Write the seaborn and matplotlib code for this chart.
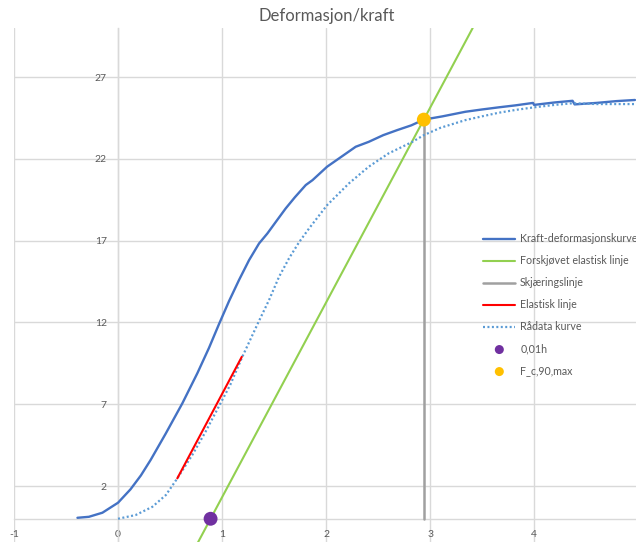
import matplotlib
matplotlib.use("Agg")
import matplotlib.pyplot as plt
import seaborn as sns

title = "Deformasjon/kraft"

# Kraft-deformasjonskurve
kurve_x = [-0.39, -0.28, -0.15, 0.0, 0.12, 0.22, 0.314, 0.458, 0.618, 0.763, 0.875,
           0.971, 1.067, 1.163, 1.26, 1.356, 1.436, 1.53, 1.612, 1.70, 1.805, 1.87,
           2.01, 2.125, 2.285, 2.41, 2.55, 2.685, 2.82, 2.94, 3.12, 3.34, 3.5, 3.66,
           3.82, 3.99, 4.0, 4.2, 4.37, 4.39, 4.6, 4.79, 4.97]
kurve_y = [0.06, 0.12, 0.37, 0.98, 1.8, 2.65, 3.6, 5.2, 7.05, 8.9, 10.45,
           11.9, 13.3, 14.59, 15.81, 16.83, 17.44, 18.26, 18.97, 19.65, 20.4, 20.7,
           21.52, 22.03, 22.74, 23.04, 23.45, 23.76, 24.05, 24.4, 24.6, 24.88, 25.02,
           25.15, 25.27, 25.42, 25.3, 25.45, 25.55, 25.33, 25.42, 25.53, 25.6]

# Rådata kurve
raa_x = [0.0, 0.17, 0.33, 0.46, 0.57, 0.714, 0.84, 0.939, 1.08, 1.195, 1.356, 1.452,
         1.548, 1.644, 1.74, 1.837, 2.01, 2.22, 2.41, 2.6, 2.83, 2.94, 3.1, 3.34,
         3.5, 3.66, 3.83, 4.0, 4.2, 4.37, 4.6, 4.79, 4.97]
raa_y = [0.0, 0.23, 0.73, 1.45, 2.47, 3.9, 5.3, 6.5, 8.2, 9.9, 12.1, 13.37,
         14.79, 15.92, 16.9, 17.75, 19.17, 20.5, 21.52, 22.33, 23.04, 23.45, 23.9,
         24.37, 24.6, 24.82, 25.0, 25.15, 25.3, 25.4, 25.35, 25.35, 25.35]

# Elastisk linje
elastisk_x = [0.57, 1.19]
elastisk_y = [2.47, 9.9]

# Forskjøvet elastisk linje
forskjovet_x = [0.764, 3.41]
forskjovet_y = [-1.5, 30.0]

# Skjæringslinje
skjaering_x = [2.94, 2.94]
skjaering_y = [0.0, 24.4]

# Points
punkt_h_x = [0.89]
punkt_h_y = [0.0]
punkt_f_x = [2.94]
punkt_f_y = [24.4]

labels = ["Kraft-deformasjonskurve", "Forskjøvet elastisk linje", "Skjæringslinje",
          "Elastisk linje", "Rådata kurve", "0,01h", "F_c,90,max"]
x_ticks = [-1, 0, 1, 2, 3, 4]
y_ticks = [2, 7, 12, 17, 22, 27]

sns.set_style("white")
plt.rcParams['font.family'] = ['Lato', 'DejaVu Sans']

fig = plt.figure(figsize=(6.36, 5.42), dpi=100)
ax = fig.add_axes([14 / 636, 0, 622 / 636, 514 / 542])

sns.lineplot(x=kurve_x, y=kurve_y, color="#4472C4", lw=1.7, label=labels[0], ax=ax,
             sort=False, estimator=None, zorder=3)
sns.lineplot(x=forskjovet_x, y=forskjovet_y, color="#92D050", lw=1.5, label=labels[1],
             ax=ax, sort=False, estimator=None, zorder=3)
sns.lineplot(x=skjaering_x, y=skjaering_y, color="#A0A0A0", lw=1.8, label=labels[2],
             ax=ax, sort=False, estimator=None, zorder=3)
sns.lineplot(x=elastisk_x, y=elastisk_y, color="#FF0000", lw=1.5, label=labels[3],
             ax=ax, sort=False, estimator=None, zorder=4)
sns.lineplot(x=raa_x, y=raa_y, color="#5B9BD5", lw=1.6, label=labels[4], ax=ax,
             sort=False, estimator=None, linestyle=(0, (0.9, 1.1)), zorder=3)
sns.scatterplot(x=punkt_h_x, y=punkt_h_y, color="#7030A0", s=100, edgecolor="none",
                label=labels[5], ax=ax, zorder=5)
sns.scatterplot(x=punkt_f_x, y=punkt_f_y, color="#FFC000", s=100, edgecolor="none",
                label=labels[6], ax=ax, zorder=5)

ax.set_xlim(-1, 4.98)
ax.set_ylim(-1.42, 30)
ax.set_xticks(x_ticks)
ax.set_yticks(y_ticks)
ax.set_xticklabels([str(t) for t in x_ticks])
ax.set_yticklabels([str(t) for t in y_ticks])
ax.set_xlabel("")
ax.set_ylabel("")

ax.spines['top'].set_visible(False)
ax.spines['right'].set_visible(False)
ax.spines['left'].set_position(('data', 0))
ax.spines['bottom'].set_position(('data', 0))
for s in ('left', 'bottom'):
    ax.spines[s].set_color('#d9d9d9')
    ax.spines[s].set_linewidth(1.0)
    ax.spines[s].set_zorder(1)

ax.grid(True, color='#d9d9d9', lw=1.0)
ax.set_axisbelow(True)
ax.tick_params(axis='both', length=0, labelsize=7.5, labelcolor='#595959')
ax.tick_params(axis='y', pad=8)
ax.tick_params(axis='x', pad=8)

fig.text(327 / 636, 1 - 16 / 542, title, ha='center', va='center', fontsize=12,
         color='#595959')

handles, labs = ax.get_legend_handles_labels()
ax.legend(handles, labs, loc='upper left', bbox_to_anchor=(479 / 636, 1 - 229 / 542),
          bbox_transform=fig.transFigure, frameon=False, fontsize=7.7,
          handlelength=3.0, handletextpad=0.45, labelspacing=1.03, markerscale=0.65,
          labelcolor='#595959', borderaxespad=0)

fig.savefig("out.png", dpi=100)
